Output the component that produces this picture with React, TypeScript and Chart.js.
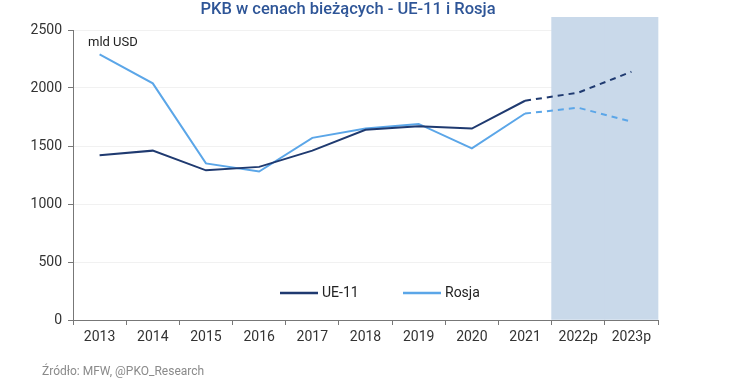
import React, { useEffect, useRef } from "react";
import { Chart, registerables } from "chart.js";

Chart.register(...registerables);

const categories = ["2013", "2014", "2015", "2016", "2017", "2018", "2019", "2020", "2021", "2022p", "2023p"];
const ue11 = [1420, 1460, 1290, 1320, 1460, 1640, 1670, 1650, 1890, 1960, 2140];
const rosja = [2290, 2040, 1350, 1280, 1570, 1650, 1690, 1480, 1780, 1830, 1710];
const forecastBand = [null, null, null, null, null, null, null, null, null, 2610, 2610];
const yTicks = [0, 500, 1000, 1500, 2000, 2500];
const forecastStart = 8;

const DARK = "#1f3a70";
const LIGHT = "#5ba6e8";
const BAND = "#c9d9ea";
const FONT = "Roboto, 'Noto Sans', sans-serif";

export default function App() {
  const ref = useRef<HTMLCanvasElement | null>(null);

  useEffect(() => {
    document.body.style.margin = "0";
    const canvas = ref.current;
    if (!canvas) return;

    const overlay = {
      id: "overlay",
      afterDraw(chart: any) {
        const ctx = chart.ctx;
        const area = chart.chartArea;
        ctx.save();
        // title
        ctx.fillStyle = "#2e5597";
        ctx.font = `500 16.5px ${FONT}`;
        ctx.textAlign = "center";
        ctx.textBaseline = "middle";
        ctx.fillText("PKB w cenach bieżących - UE-11 i Rosja", 348, 10);
        // unit
        ctx.fillStyle = "#222";
        ctx.font = `13px ${FONT}`;
        ctx.textAlign = "left";
        ctx.fillText("mld USD", area.left + 15, area.top + 13);
        // footer
        ctx.fillStyle = "#8a8a8a";
        ctx.font = `12px ${FONT}`;
        ctx.fillText("Źródło: MFW, @PKO_Research", 42, 372);
        // legend
        const items = [
          { label: "UE-11", color: DARK, x: 280 },
          { label: "Rosja", color: LIGHT, x: 403 },
        ];
        const ly = 293;
        ctx.font = `14px ${FONT}`;
        ctx.fillStyle = "#222";
        items.forEach((it) => {
          ctx.strokeStyle = it.color;
          ctx.lineWidth = 2.5;
          ctx.beginPath();
          ctx.moveTo(it.x, ly);
          ctx.lineTo(it.x + 38, ly);
          ctx.stroke();
          ctx.fillText(it.label, it.x + 42, ly);
        });
        ctx.restore();
      },
    };

    const dashAfter = (ctx: any) => (ctx.p0DataIndex >= forecastStart ? [6, 5] : undefined);

    const chart = new Chart(canvas, {
      data: {
        labels: categories,
        datasets: [
          {
            type: "line",
            label: "UE-11",
            data: ue11,
            borderColor: DARK,
            backgroundColor: DARK,
            borderWidth: 2,
            pointRadius: 0,
            tension: 0,
            segment: { borderDash: dashAfter },
            order: 1,
          },
          {
            type: "line",
            label: "Rosja",
            data: rosja,
            borderColor: LIGHT,
            backgroundColor: LIGHT,
            borderWidth: 2,
            pointRadius: 0,
            tension: 0,
            segment: { borderDash: dashAfter },
            order: 2,
          },
          {
            type: "bar",
            label: "prognoza",
            data: forecastBand as any,
            backgroundColor: BAND,
            borderWidth: 0,
            barPercentage: 1,
            categoryPercentage: 1,
            clip: false as any,
            order: 3,
          },
        ],
      },
      options: {
        animation: false,
        responsive: false,
        layout: { padding: { left: 0, right: 92, top: 30, bottom: 0 } },
        plugins: {
          legend: { display: false },
          title: { display: false },
          tooltip: { enabled: false },
        },
        scales: {
          x: {
            offset: true,
            grid: {
              offset: true,
              drawOnChartArea: false,
              tickLength: 5,
              tickColor: "#777",
            },
            border: { color: "#777", width: 1 },
            ticks: { color: "#333", font: { family: FONT, size: 14 }, padding: 4, maxRotation: 0 },
            afterFit(scale: any) {
              scale.height = 66;
            },
          },
          y: {
            min: 0,
            max: 2500,
            afterBuildTicks(scale: any) {
              scale.ticks = yTicks.map((v) => ({ value: v }));
            },
            grid: { color: "#f1f1f1", tickLength: 5, tickColor: "#777" },
            border: { color: "#777", width: 1 },
            ticks: {
              color: "#333",
              font: { family: FONT, size: 14 },
              padding: 6,
              callback: (v: any) => String(v),
            },
            afterFit(scale: any) {
              scale.width = 73;
            },
          },
        },
      },
      plugins: [overlay],
    } as any);

    return () => chart.destroy();
  }, []);

  return (
    <div style={{ width: 750, height: 386, background: "#fff" }}>
      <canvas ref={ref} width={750} height={386} style={{ display: "block" }} />
    </div>
  );
}
